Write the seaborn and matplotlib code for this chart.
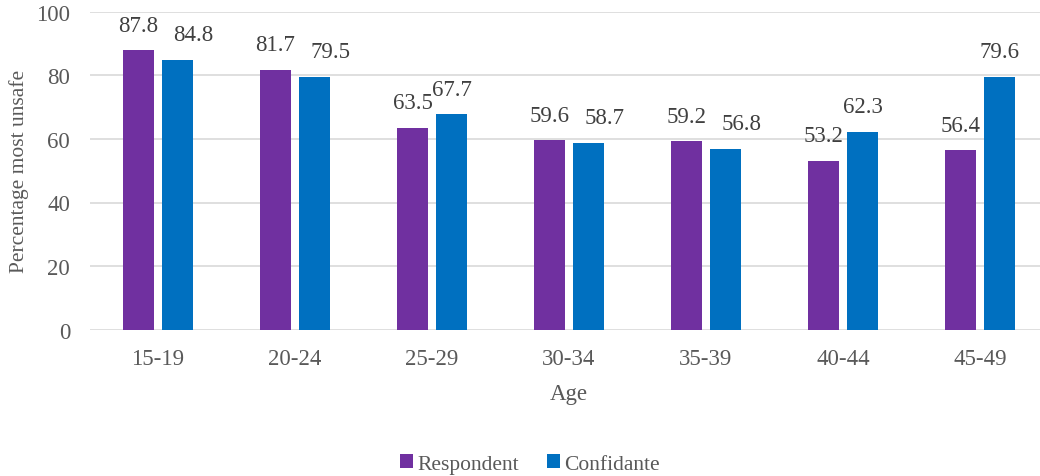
import matplotlib
matplotlib.use("Agg")
import matplotlib.pyplot as plt
import seaborn as sns
import pandas as pd

ages = ["15-19", "20-24", "25-29", "30-34", "35-39", "40-44", "45-49"]
respondent = [87.8, 81.7, 63.5, 59.6, 59.2, 53.2, 56.4]
confidante = [84.8, 79.5, 67.7, 58.7, 56.8, 62.3, 79.6]
series = ["Respondent", "Confidante"]
colors = ["#7030A0", "#0070C0"]

df = pd.DataFrame({
    "Age": ages * 2,
    "Value": respondent + confidante,
    "Series": [series[0]] * len(ages) + [series[1]] * len(ages),
})

sns.set_theme(style="white")
plt.rcParams["font.family"] = ["Liberation Serif", "DejaVu Serif"]
text_color = "#595959"
fs = 16.5

fig = plt.figure(figsize=(10.4, 4.77), dpi=100)
ax = fig.add_axes([89.5 / 1040, 1 - 330.7 / 477, 959 / 1040, 318 / 477])

sns.barplot(data=df, x="Age", y="Value", hue="Series", order=ages,
            hue_order=series, palette=colors, width=0.569, gap=0.205,
            saturation=1, linewidth=0, ax=ax, legend=True)

ax.set_xlim(-0.5, len(ages) - 0.5)
ax.set_ylim(0, 100)
ax.set_yticks([0, 20, 40, 60, 80, 100])
ax.yaxis.grid(True, color="#D9D9D9", linewidth=1.2)
ax.set_axisbelow(True)
for s in ax.spines.values():
    s.set_visible(False)
ax.tick_params(axis="both", length=0, labelsize=fs, colors=text_color)
ax.tick_params(axis="y", pad=14)
ax.tick_params(axis="x", pad=13)

# value labels; shift the second label right when it would collide with the first
px_per_unit = 318 / 100.0
pr, pc = ax.containers[0], ax.containers[1]
for br, bc in zip(pr, pc):
    hr, hc = br.get_height(), bc.get_height()
    ax.annotate(f"{hr:.1f}", (br.get_x() + br.get_width() / 2, hr),
                xytext=(0, 10.5), textcoords="offset points",
                ha="center", va="bottom", fontsize=fs, color="#404040")
    dx = 0
    if abs(hr - hc) * px_per_unit < 12:
        dx = 11.5
    ax.annotate(f"{hc:.1f}", (bc.get_x() + bc.get_width() / 2, hc),
                xytext=(dx, 10.5), textcoords="offset points",
                ha="center", va="bottom", fontsize=fs, color="#404040")

ax.set_xlabel("Age", fontsize=fs, color=text_color, labelpad=10)
ax.set_ylabel("Percentage most unsafe", fontsize=15.5, color=text_color, labelpad=5)

handles, labels = ax.get_legend_handles_labels()
ax.get_legend().remove()
fig.legend(handles, labels, loc="center", bbox_to_anchor=(530 / 1040, 1 - 465 / 477),
           ncol=2, frameon=False, fontsize=15.5, handlelength=0.6, handleheight=0.6,
           handletextpad=0.2, columnspacing=1.3, labelcolor=text_color)

fig.savefig("out.png", dpi=100)
